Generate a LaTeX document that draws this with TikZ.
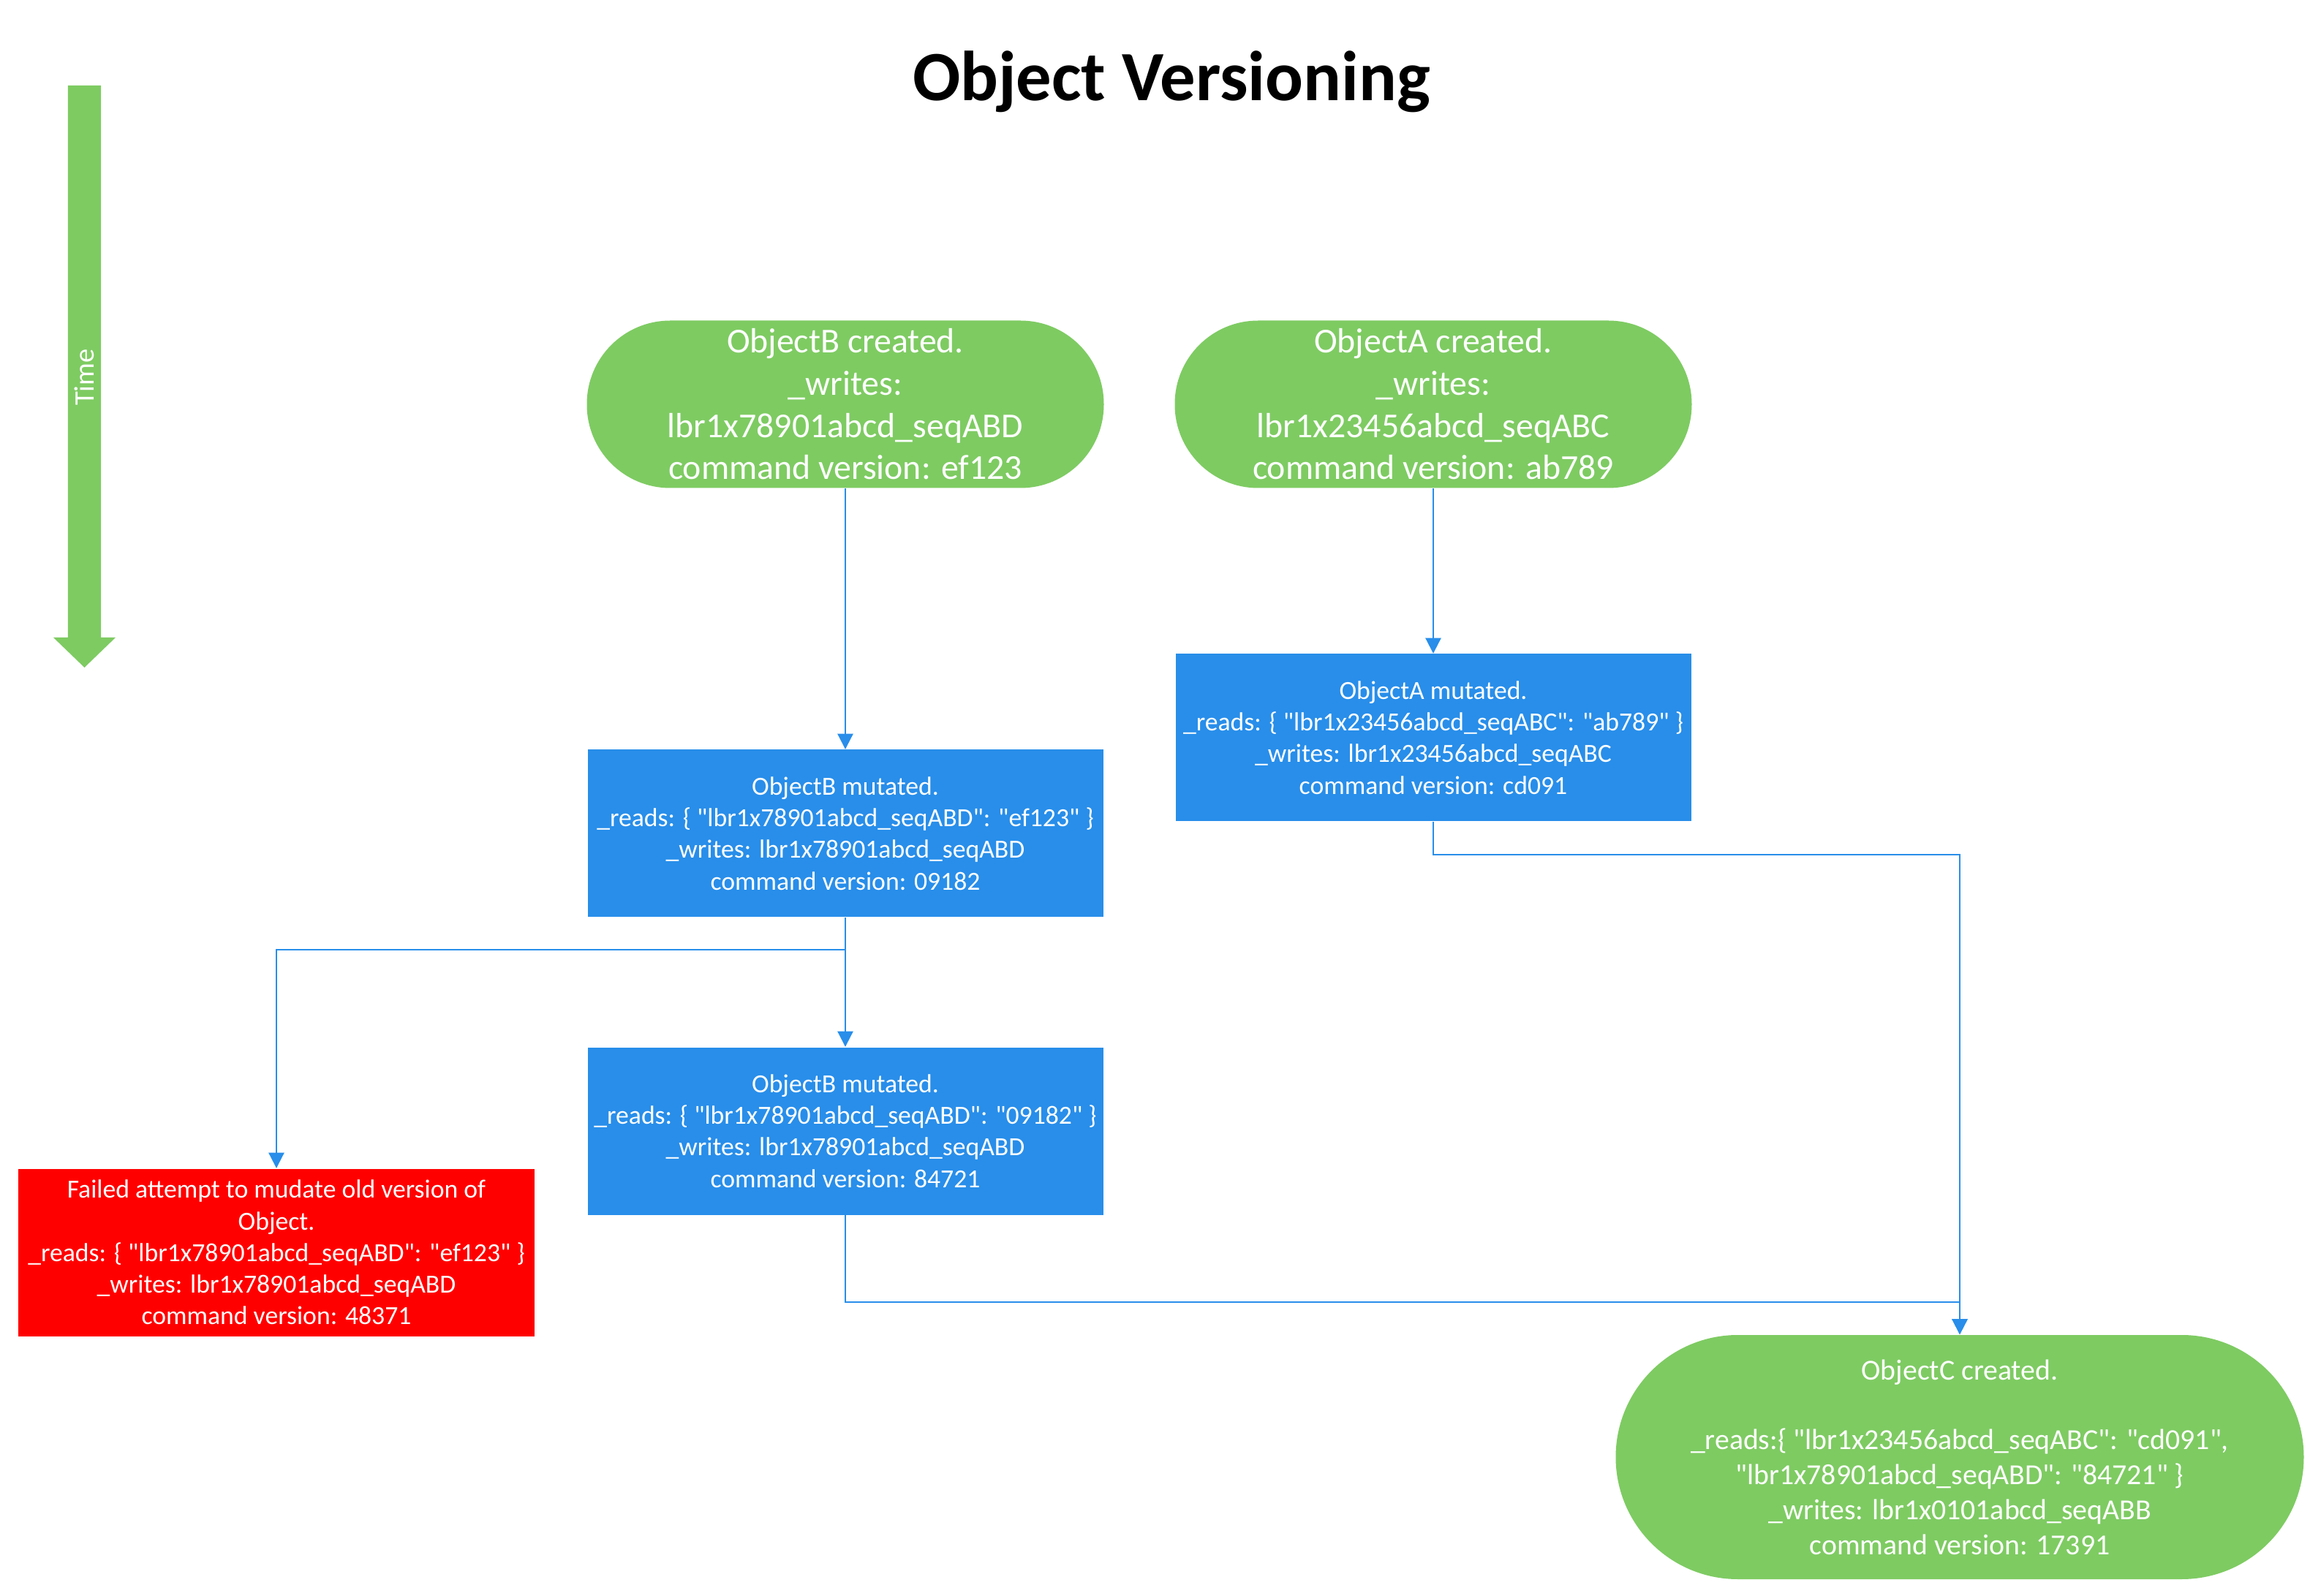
\documentclass[tikz,border=0pt]{standalone}
\usepackage{fontspec}
\setmainfont[Ligatures=TeXOff]{Carlito}
\usepackage{xcolor}
\usetikzlibrary{arrows.meta}
\definecolor{creategreen}{RGB}{126,203,98}
\definecolor{mutateblue}{RGB}{40,142,234}
\definecolor{failred}{RGB}{255,0,0}

\begin{document}
\begin{tikzpicture}[
        created/.style={fill=creategreen, text=white, align=center, inner sep=0pt,
            minimum width=7.07cm, minimum height=2.29cm, rounded corners=1.14cm,
            font=\fontsize{13.6}{16.4}\selectfont},
        mutated/.style={fill=mutateblue, text=white, align=center, inner sep=0pt,
            minimum width=7.05cm, minimum height=2.29cm,
            font=\fontsize{10.15}{12.3}\selectfont},
        flow/.style={draw=mutateblue, line width=0.6pt, -{Triangle[length=6pt, width=6pt]}}]
                \useasboundingbox (0,0) rectangle (31.74,-21.83);
                \def\colB{11.56}
                \def\colA{19.60}

                \node[font=\fontsize{27.5}{33}\selectfont\bfseries] (title) at (16.02,-1.12) {Object Versioning};

                % time arrow
                \fill[creategreen] (0.93,-1.17) -- (1.38,-1.17) -- (1.38,-8.72) -- (1.58,-8.72)
                    -- (1.155,-9.13) -- (0.73,-8.72) -- (0.93,-8.72) -- cycle;
                \node[rotate=90, text=white, font=\fontsize{11}{13}\selectfont] (time) at (1.155,-5.16) {Time};

                \node[created] (bnew) at (\colB,-5.53) {ObjectB created.\\\_writes:\\lbr1x78901abcd\_seqABD\\command version: ef123};
                \node[created] (anew) at (\colA,-5.53) {ObjectA created.\\\_writes:\\lbr1x23456abcd\_seqABC\\command version: ab789};
                \node[mutated] (amut) at (\colA,-10.09) {ObjectA mutated.\\\_reads: \{ "lbr1x23456abcd\_seqABC": "ab789" \}\\\_writes: lbr1x23456abcd\_seqABC\\command version: cd091};
                \node[mutated] (bmut1) at (\colB,-11.40) {ObjectB mutated.\\\_reads: \{ "lbr1x78901abcd\_seqABD": "ef123" \}\\\_writes: lbr1x78901abcd\_seqABD\\command version: 09182};
                \node[mutated] (bmut2) at (\colB,-15.47) {ObjectB mutated.\\\_reads: \{ "lbr1x78901abcd\_seqABD": "09182" \}\\\_writes: lbr1x78901abcd\_seqABD\\command version: 84721};
                \node[mutated, fill=failred] (fail) at (3.78,-17.13) {Failed attempt to mudate old version of\\Object.\\\_reads: \{ "lbr1x78901abcd\_seqABD": "ef123" \}\\\_writes: lbr1x78901abcd\_seqABD\\command version: 48371};
                \node[created, minimum width=9.41cm, minimum height=3.34cm, rounded corners=1.67cm,
                    font=\fontsize{11.3}{13.6}\selectfont] (cnew) at (26.80,-19.93)
                    {ObjectC created.\\\strut\\\_reads:\{ "lbr1x23456abcd\_seqABC": "cd091",\\"lbr1x78901abcd\_seqABD": "84721" \}\\\_writes: lbr1x0101abcd\_seqABB\\command version: 17391};

                \draw[flow] (bnew) -- (bmut1);
                \draw[flow] (anew) -- (amut);
                \draw[flow] (bmut1) -- (bmut2);
                \draw[flow] (bmut1.south) -- ++(0,-0.44) -| (fail.north);
                \draw[flow] (amut.south) -- ++(0,-0.45) -| (cnew.north);
                \draw[flow] (bmut2.south) -- ++(0,-1.19) -| (cnew.north);
            \end{tikzpicture}
\end{document}
